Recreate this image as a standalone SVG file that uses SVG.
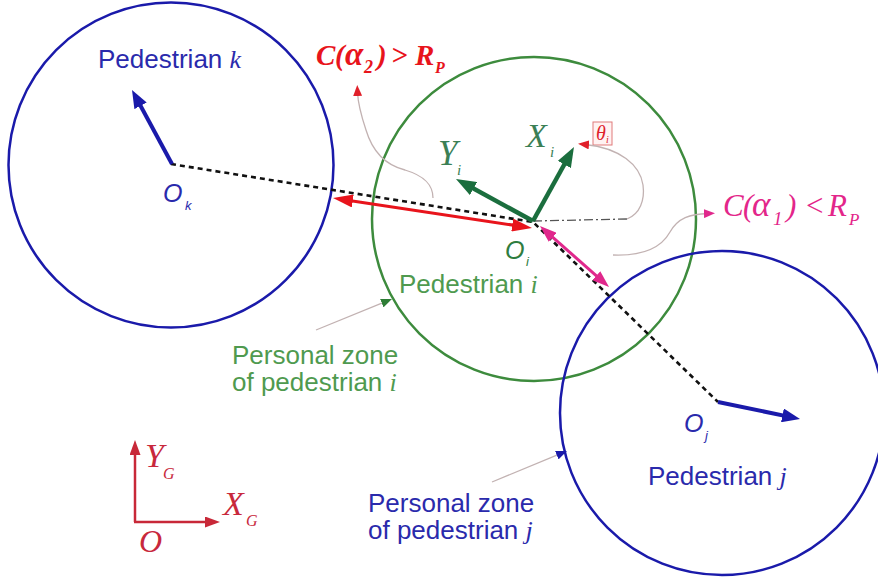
<svg xmlns="http://www.w3.org/2000/svg" width="878" height="577" viewBox="0 0 878 577">
<style>
.circ{fill:none;stroke-width:2.5}
.sans{font-family:"Liberation Sans",Arial,sans-serif}
.serif{font-family:"Liberation Serif","Times New Roman",serif}
.it{font-style:italic}
.lbl{font-size:26px}
.blueT{fill:#2a2aac}
.greenT{fill:#4f9a4f}
.gray{fill:none;stroke:#c2b2b2;stroke-width:1.3}
</style>
<defs>
<marker id="mBlue" markerUnits="userSpaceOnUse" markerWidth="18" markerHeight="14" refX="10" refY="7" orient="auto"><path d="M0,0 L18,7 L0,14 z" fill="#1a1aaa"/></marker>
<marker id="mGreen" markerUnits="userSpaceOnUse" markerWidth="20" markerHeight="15" refX="12" refY="7.5" orient="auto"><path d="M0,0 L20,7.5 L0,15 z" fill="#1b6e3e"/></marker>
<marker id="mRed" markerUnits="userSpaceOnUse" markerWidth="20" markerHeight="13" refX="12" refY="6.5" orient="auto-start-reverse"><path d="M0,0 L20,6.5 L0,13 z" fill="#e8141c"/></marker>
<marker id="mPink" markerUnits="userSpaceOnUse" markerWidth="17" markerHeight="12" refX="10" refY="6" orient="auto-start-reverse"><path d="M0,0 L17,6 L0,12 z" fill="#e0288c"/></marker>
<marker id="mAxis" markerUnits="userSpaceOnUse" markerWidth="15" markerHeight="11" refX="8" refY="5.5" orient="auto"><path d="M0,0 L15,5.5 L0,11 z" fill="#c82838"/></marker>
<marker id="sRed" markerUnits="userSpaceOnUse" markerWidth="11" markerHeight="9" refX="4" refY="4.5" orient="auto"><path d="M0,0 L11,4.5 L0,9 z" fill="#e0202a"/></marker>
<marker id="sPink" markerUnits="userSpaceOnUse" markerWidth="11" markerHeight="9" refX="4" refY="4.5" orient="auto"><path d="M0,0 L11,4.5 L0,9 z" fill="#e0288c"/></marker>
<marker id="sGreen" markerUnits="userSpaceOnUse" markerWidth="11" markerHeight="9" refX="4" refY="4.5" orient="auto"><path d="M0,0 L11,4.5 L0,9 z" fill="#2e7d36"/></marker>
<marker id="sBlue" markerUnits="userSpaceOnUse" markerWidth="11" markerHeight="9" refX="4" refY="4.5" orient="auto"><path d="M0,0 L11,4.5 L0,9 z" fill="#1a1aaa"/></marker>
</defs>

<g id="pedestrian-k">
<circle class="circ" cx="171" cy="165" r="162.5" stroke="#1a1aaa"/>
<text class="sans lbl blueT" x="98" y="68">Pedestrian <tspan class="serif it">k</tspan></text>
<text class="sans it blueT" x="163" y="202" font-size="25">O<tspan x="185" y="210" font-size="13">k</tspan></text>
</g>

<g id="pedestrian-i">
<circle class="circ" cx="534" cy="219" r="162" stroke="#3d8b3d"/>
<text class="sans lbl greenT" x="399" y="293">Pedestrian <tspan class="serif it">i</tspan></text>
<text class="sans it" x="505" y="259" font-size="25" fill="#2f7d3f">O<tspan x="526" y="266" font-size="13">i</tspan></text>
<text class="serif it" x="438" y="165" font-size="35" fill="#3b7f55">Y<tspan x="457" y="175" font-size="15">i</tspan></text>
<text class="serif it" x="526" y="147" font-size="34" fill="#3b7f55">X<tspan x="550" y="157" font-size="15">i</tspan></text>
<rect x="593" y="122" width="19" height="23" fill="#fff2f2" stroke="#e07a7a" stroke-width="1"/>
<text class="serif it" x="596" y="140" font-size="20" fill="#e0202a">θ<tspan x="606" y="143" font-size="10">i</tspan></text>
</g>

<g id="pedestrian-j">
<circle class="circ" cx="722" cy="413" r="162" stroke="#1a1aaa"/>
<text class="sans lbl blueT" x="648" y="485">Pedestrian <tspan class="serif it">j</tspan></text>
<text class="sans it blueT" x="684" y="432" font-size="25">O<tspan x="705" y="440" font-size="13">j</tspan></text>
</g>

<g id="zone-i-label">
<text class="sans lbl greenT" x="232" y="364">Personal zone</text>
<text class="sans lbl greenT" x="232" y="391">of pedestrian <tspan class="serif it">i</tspan></text>
</g>

<g id="zone-j-label">
<text class="sans lbl blueT" x="368" y="512">Personal zone</text>
<text class="sans lbl blueT" x="368" y="539">of pedestrian <tspan class="serif it">j</tspan></text>
</g>

<g id="cond-2">
<text class="serif it" font-weight="bold" fill="#e8141c" font-size="29"><tspan x="316" y="65">C</tspan><tspan x="335" y="65">(</tspan><tspan x="345" y="65" font-size="33">α</tspan><tspan x="364" y="73" font-size="18">2</tspan><tspan x="377" y="65">)</tspan><tspan x="391" y="65">&gt;</tspan><tspan x="415" y="65">R</tspan><tspan x="435" y="73" font-size="16">P</tspan></text>
</g>

<g id="cond-1">
<text class="serif it" fill="#e3268a" font-size="31"><tspan x="723" y="216">C</tspan><tspan x="743" y="216">(</tspan><tspan x="752" y="216" font-size="35">α</tspan><tspan x="773" y="225" font-size="19">1</tspan><tspan x="786" y="216">)</tspan><tspan x="804" y="216">&lt;</tspan><tspan x="828" y="216">R</tspan><tspan x="849" y="225" font-size="17">P</tspan></text>
</g>

<g id="global-axes">
<line x1="135" y1="522" x2="135" y2="447" stroke="#c82838" stroke-width="2.5" marker-end="url(#mAxis)"/>
<line x1="134" y1="522" x2="213" y2="522" stroke="#c82838" stroke-width="2.5" marker-end="url(#mAxis)"/>
<text class="serif it" x="145" y="467" font-size="34" fill="#c8283c">Y<tspan x="163" y="479" font-size="16">G</tspan></text>
<text class="serif it" x="223" y="515" font-size="34" fill="#c8283c">X<tspan x="246" y="526" font-size="16">G</tspan></text>
<text class="serif it" x="139" y="552" font-size="32" fill="#c8283c">O</text>
</g>

<g id="connectors">
<path d="M171,164 L533,222 L718,402" fill="none" stroke="#111" stroke-width="2.6" stroke-dasharray="5,4"/>
<line x1="533" y1="221" x2="627" y2="219" stroke="#555" stroke-width="1.3" stroke-dasharray="9,3,2,3"/>
<line x1="172" y1="164" x2="135.8" y2="97" stroke="#1a1aaa" stroke-width="4" marker-end="url(#mBlue)"/>
<line x1="718" y1="402" x2="792.2" y2="417.4" stroke="#1a1aaa" stroke-width="4" marker-end="url(#mBlue)"/>
<line x1="533" y1="221" x2="570.1" y2="154" stroke="#1b6e3e" stroke-width="4.5" marker-end="url(#mGreen)"/>
<line x1="533" y1="221" x2="463" y2="182.8" stroke="#1b6e3e" stroke-width="4.5" marker-end="url(#mGreen)"/>
<line x1="340.9" y1="199.2" x2="524.1" y2="226.8" stroke="#e8141c" stroke-width="3" marker-start="url(#mRed)" marker-end="url(#mRed)"/>
<line x1="545.2" y1="230.6" x2="603.8" y2="282.4" stroke="#e0288c" stroke-width="3" marker-start="url(#mPink)" marker-end="url(#mPink)"/>
<path class="gray" d="M433,198 C433,185 425,176 405,170 C385,165 372,150 366,130 C361,115 358,105 357.5,92" marker-end="url(#sRed)"/>
<path class="gray" d="M627,219 C640,214 645,200 643,185 C640,165 620,148 585,144.5" marker-end="url(#sRed)"/>
<path class="gray" d="M613,255 C640,256 660,250 670,232 C678,218 690,214 708,213.5" marker-end="url(#sPink)"/>
<line class="gray" x1="316" y1="330" x2="385.5" y2="301.7" marker-end="url(#sGreen)"/>
<line class="gray" x1="492" y1="482" x2="560.5" y2="453.7" marker-end="url(#sBlue)"/>
</g>
</svg>
